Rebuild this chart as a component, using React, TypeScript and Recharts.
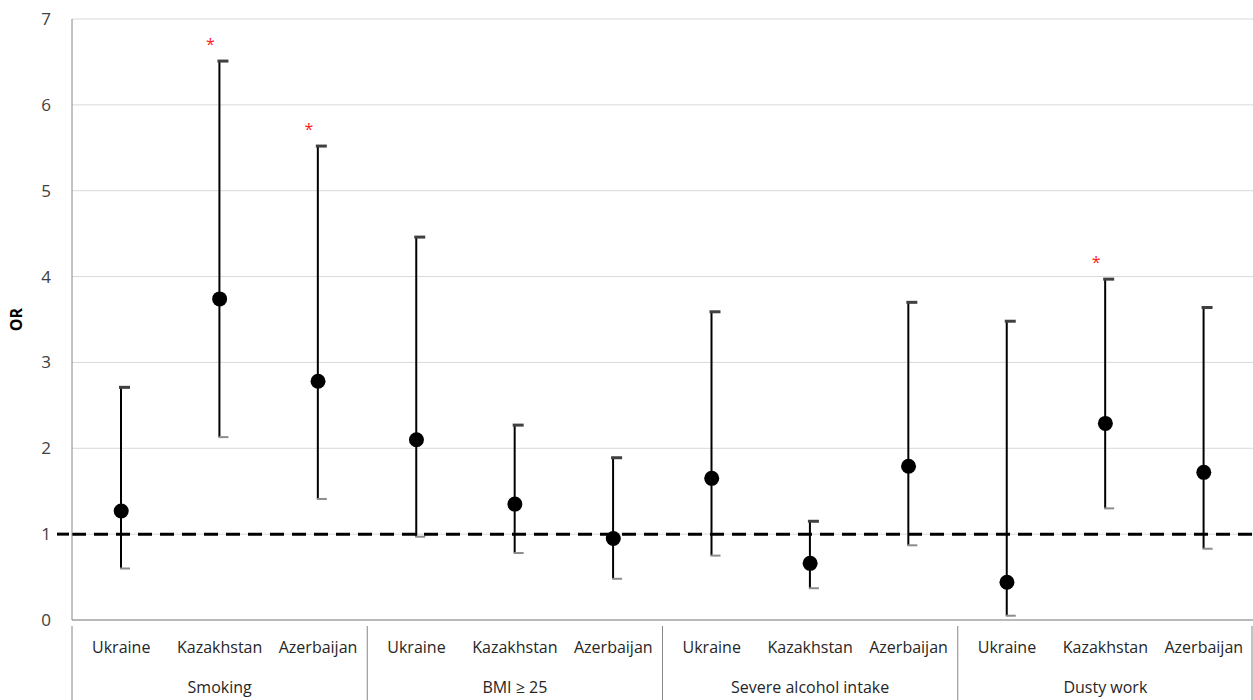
import React from "react"
import {
  ComposedChart,
  Bar,
  Scatter,
  XAxis,
  YAxis,
  CartesianGrid,
  ReferenceLine,
} from "recharts"

const countries = [
  "Ukraine", "Kazakhstan", "Azerbaijan",
  "Ukraine", "Kazakhstan", "Azerbaijan",
  "Ukraine", "Kazakhstan", "Azerbaijan",
  "Ukraine", "Kazakhstan", "Azerbaijan",
]
const groups = ["Smoking", "BMI ≥ 25", "Severe alcohol intake", "Dusty work"]
const orValues = [1.27, 3.74, 2.78, 2.1, 1.35, 0.95, 1.65, 0.66, 1.79, 0.44, 2.29, 1.72]
const lowerCI = [0.6, 2.13, 1.41, 0.97, 0.78, 0.48, 0.75, 0.37, 0.87, 0.05, 1.3, 0.83]
const upperCI = [2.71, 6.51, 5.52, 4.46, 2.27, 1.89, 3.59, 1.15, 3.7, 3.48, 3.97, 3.64]
const significant = [false, true, true, false, false, false, false, false, false, false, true, false]
const yTicks = [0, 1, 2, 3, 4, 5, 6, 7]

const data = countries.map((c, i) => ({
  id: groups[Math.floor(i / 3)] + "-" + c,
  country: c,
  or: orValues[i],
  lower: lowerCI[i],
  upper: upperCI[i],
  sig: significant[i],
}))

const FONT = "'Open Sans', sans-serif"
const BAND = 1181 / 12
const AXIS_X = 72

const CiShape = (props: any) => {
  const { x, y, width, height, payload } = props
  const cx = x + width / 2
  return (
    <g>
      <line x1={cx} y1={y} x2={cx} y2={y + height} stroke="#000" strokeWidth={2} />
      <line x1={cx - 2} y1={y} x2={cx + 9} y2={y} stroke="#404040" strokeWidth={3} />
      <line x1={cx - 1} y1={y + height} x2={cx + 9} y2={y + height} stroke="#8c8c8c" strokeWidth={2} />
      {payload.sig && (
        <text x={cx - 9} y={y - 11} textAnchor="middle" fill="#ff2020" fontSize={16} fontFamily={FONT}>
          *
        </text>
      )}
    </g>
  )
}

const Dot = (props: any) => <circle cx={props.cx} cy={props.cy} r={7.5} fill="#000" />

const CategoryTick = (props: any) => {
  const { x, y, index } = props
  const axisY = y - 2
  return (
    <g>
      <text x={x} y={axisY + 27} textAnchor="middle" fill="#262626" fontSize={16} fontFamily={FONT}>
        {countries[index]}
      </text>
      {index % 3 === 1 && (
        <text x={x} y={axisY + 67} textAnchor="middle" fill="#262626" fontSize={16} fontFamily={FONT}>
          {groups[Math.floor(index / 3)]}
        </text>
      )}
      {index % 3 === 0 && (
        <line x1={x - BAND / 2} y1={axisY} x2={x - BAND / 2} y2={axisY + 80} stroke="#868686" />
      )}
      {index === countries.length - 1 && (
        <line x1={x + BAND / 2 - 1} y1={axisY} x2={x + BAND / 2 - 1} y2={axisY + 80} stroke="#868686" />
      )}
    </g>
  )
}

const ValueTick = (props: any) => {
  const { y, payload } = props
  return (
    <g>
      <text x={51} y={y} dy={6} textAnchor="end" fill="#404040" fontSize={17} fontFamily={FONT}>
        {payload.value}
      </text>
      {payload.value === 1 && (
        <line x1={57} y1={y} x2={AXIS_X} y2={y} stroke="#000" strokeWidth={3} strokeDasharray="12 8" />
      )}
    </g>
  )
}

export default function App() {
  return (
    <div style={{ position: "absolute", left: 0, top: 0, background: "#fff" }}>
      <ComposedChart
        width={1253}
        height={700}
        data={data}
        margin={{ top: 19, right: 0, bottom: 0, left: 0 }}
      >
        <CartesianGrid vertical={false} stroke="#d9d9d9" />
        <XAxis
          dataKey="id"
          interval={0}
          height={80}
          tickLine={false}
          axisLine={{ stroke: "#868686" }}
          tick={<CategoryTick />}
        />
        <YAxis
          width={AXIS_X}
          domain={[0, 7]}
          ticks={yTicks}
          tickLine={false}
          axisLine={{ stroke: "#868686" }}
          tick={<ValueTick />}
          label={{
            value: "OR",
            angle: -90,
            position: "insideLeft",
            offset: 16,
            style: { fontWeight: "bold", fontSize: 16, fill: "#000", fontFamily: FONT, textAnchor: "middle" },
          }}
        />
        <ReferenceLine y={1} stroke="#000" strokeWidth={3} strokeDasharray="14 8" />
        <Bar
          dataKey={(d: any) => [d.lower, d.upper]}
          barSize={10}
          shape={<CiShape />}
          isAnimationActive={false}
        />
        <Scatter dataKey="or" shape={<Dot />} isAnimationActive={false} />
      </ComposedChart>
    </div>
  )
}
